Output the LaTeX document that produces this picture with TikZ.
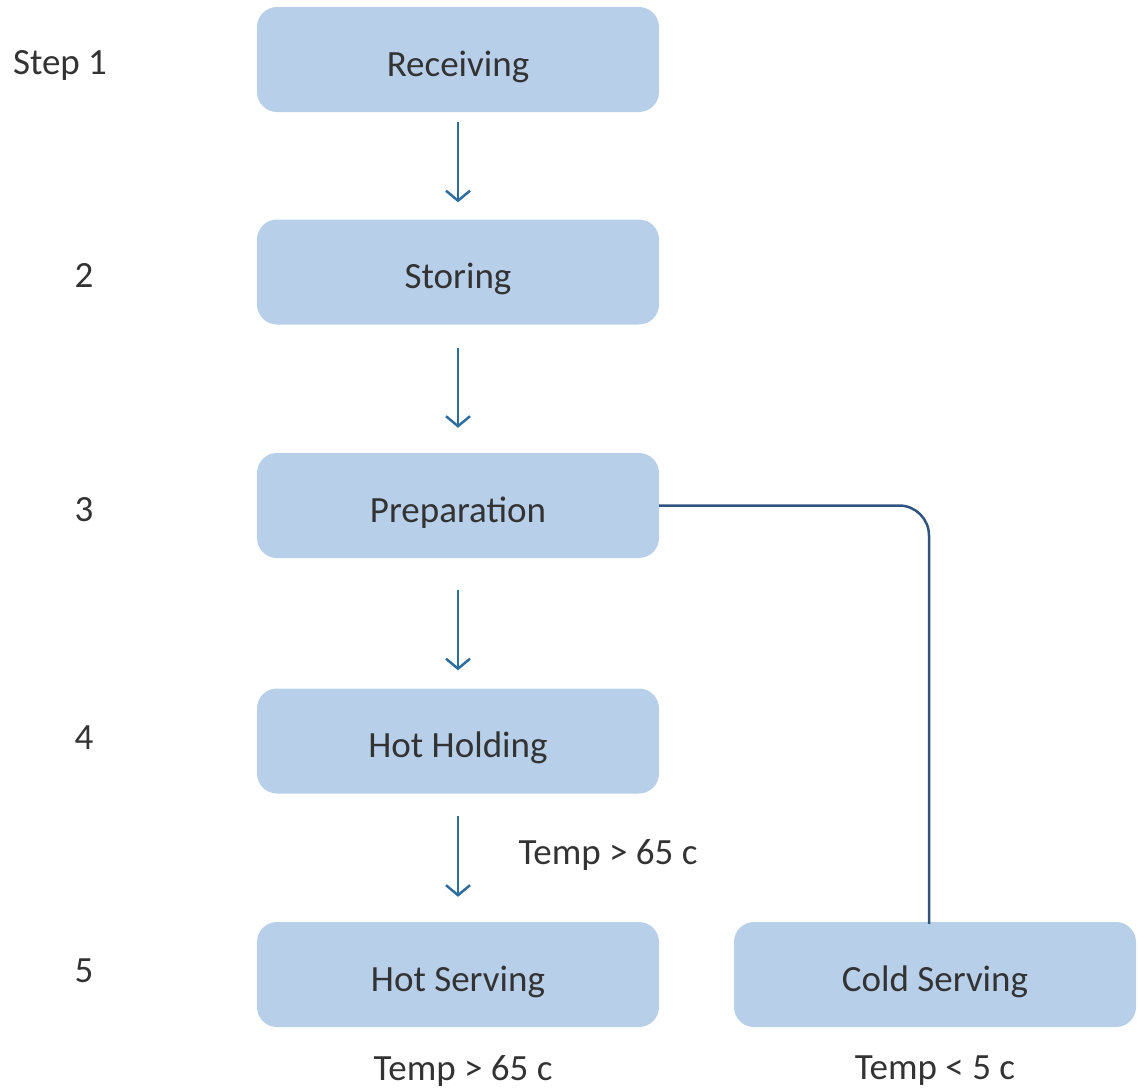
\documentclass[tikz,border=0pt]{standalone}
\usepackage{fontspec}
\setmainfont{Carlito}
\usepackage{tikz}
\usetikzlibrary{arrows.meta}
\definecolor{boxblue}{HTML}{B8CFEA}
\definecolor{arrowblue}{HTML}{2E6E9E}
\definecolor{linenavy}{HTML}{2F5480}
\definecolor{textgray}{HTML}{333333}
\tikzstyle{stepbox} = [fill=boxblue, draw=none, rectangle, rounded corners=20pt,
    minimum width=402pt, minimum height=105pt, text height=33pt, text depth=0pt,
    text=textgray, font=\fontsize{37}{42}\selectfont]
\tikzstyle{steplabel} = [text=textgray, font=\fontsize{37}{42}\selectfont]
\tikzstyle{flow} = [draw=arrowblue, line width=2.5pt, -{Straight Barb[length=10pt,width=24pt]}]

\begin{document}
\begin{tikzpicture}[x=1pt,y=-1pt]
                \useasboundingbox (0,0) rectangle (1138,1092);
                \node [stepbox] (receiving) at (458,59.5) {Receiving};
                \node [stepbox] (storing) at (458,272) {Storing};
                \node [stepbox] (preparation) at (458,505.5) {Preparation};
                \node [stepbox] (holding) at (458,741) {Hot Holding};
                \node [stepbox] (hotserving) at (458,974.5) {Hot Serving};
                \node [stepbox] (coldserving) at (935,974.5) {Cold Serving};

                \node [steplabel] (s1) at (60,65) {Step 1};
                \node [steplabel] (s2) at (84,275) {2};
                \node [steplabel] (s3) at (84,510) {3};
                \node [steplabel] (s4) at (84,738) {4};
                \node [steplabel] (s5) at (84,971) {5};

                \node [steplabel] (hotlimit) at (608,855) {Temp > 65 c};
                \node [steplabel] (hotserve) at (463,1071) {Temp > 65 c};
                \node [steplabel] (coldserve) at (935,1071) {Temp < 5 c};

                \draw [flow, shorten <=10pt, shorten >=17pt] (receiving) -- (storing);
                \draw [flow, shorten <=23pt, shorten >=25pt] (storing) -- (preparation);
                \draw [flow, shorten <=32pt, shorten >=18pt] (preparation) -- (holding);
                \draw [flow, shorten <=22pt, shorten >=25pt] (holding) -- (hotserving);
                \draw [draw=linenavy, line width=2.5pt, rounded corners=30pt]
                    (preparation.east) -| ([xshift=-6pt,yshift=-2pt]coldserving.north);
            \end{tikzpicture}
\end{document}
